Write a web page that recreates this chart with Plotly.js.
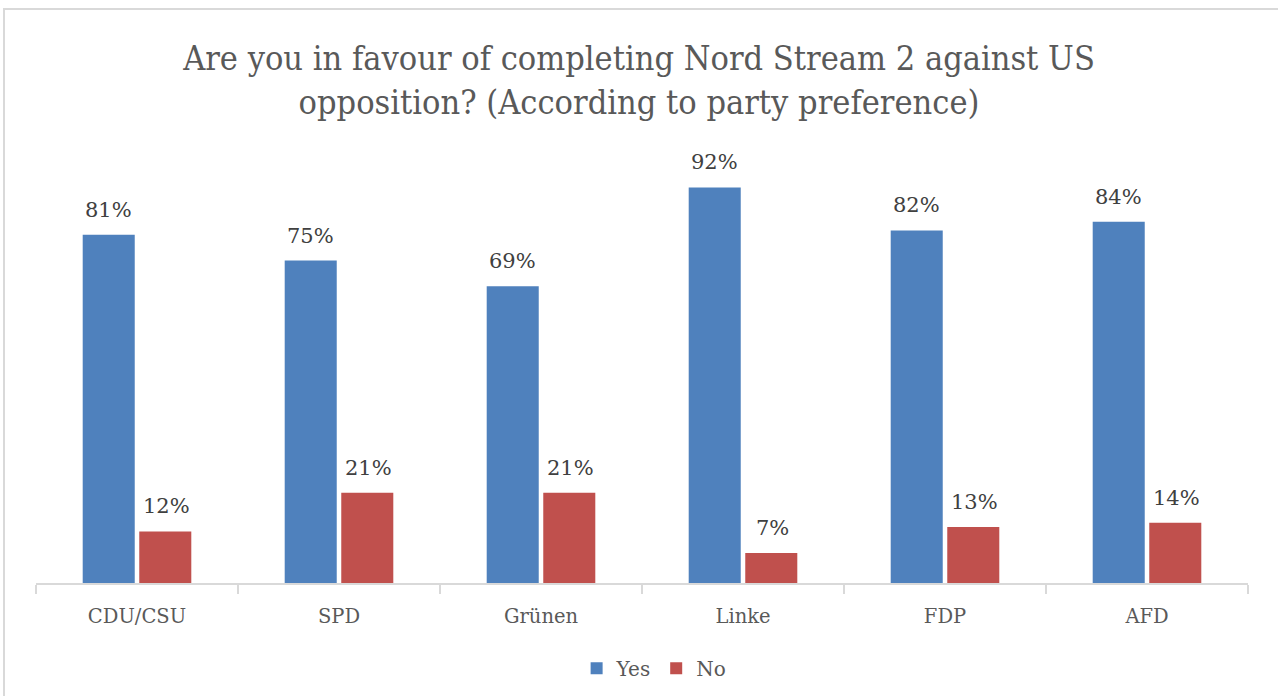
<!DOCTYPE html>
<html>
<head>
<meta charset="utf-8">
<script src="https://cdn.plot.ly/plotly-3.0.1.min.js"></script>
<style>
html,body{margin:0;padding:0;background:#fff;overflow:hidden;}
#frame{position:absolute;left:3px;top:8px;width:1400px;height:800px;border:2px solid #d9d9d9;box-sizing:border-box;}
#chart{position:absolute;left:0;top:0;width:1278px;height:696px;}
</style>
</head>
<body>
<div id="frame"></div>
<div id="chart"></div>
<script>
const categories = ["CDU/CSU", "SPD", "Grünen", "Linke", "FDP", "AFD"];
const yesValues = [81, 75, 69, 92, 82, 84];
const noValues = [12, 21, 21, 7, 13, 14];
const seriesNames = ["Yes", "No"];
const titleText = "Are you in favour of completing Nord Stream 2 against US<br>opposition? (According to party preference)";

const serif = "DejaVu Serif, Liberation Serif, serif";
const textColor = "#595959";
const labelColor = "#404040";

const traces = [
  {type: "bar", name: seriesNames[0], x: categories, y: yesValues,
   marker: {color: "#4F81BD"}, hoverinfo: "skip"},
  {type: "bar", name: seriesNames[1], x: categories, y: noValues,
   marker: {color: "#C0504D"}, hoverinfo: "skip"}
];

const annotations = [];
categories.forEach((c, i) => {
  annotations.push({x: c, y: yesValues[i], xref: "x", yref: "y", text: yesValues[i] + "%",
    showarrow: false, xanchor: "center", yanchor: "bottom", xshift: -29, yshift: 11,
    font: {family: serif, size: 21, color: labelColor}});
  annotations.push({x: c, y: noValues[i], xref: "x", yref: "y", text: noValues[i] + "%",
    showarrow: false, xanchor: "center", yanchor: "bottom", xshift: 29, yshift: 11,
    font: {family: serif, size: 21, color: labelColor}});
});

const layout = {
  width: 1278, height: 696,
  paper_bgcolor: "rgba(0,0,0,0)", plot_bgcolor: "rgba(0,0,0,0)",
  margin: {l: 36, r: 30, t: 153, b: 113},
  title: {text: titleText, x: 0.5, xanchor: "center", y: 0.9, yanchor: "top",
          font: {family: "DejaVu Serif Condensed, " + serif, size: 34, color: textColor}},
  barmode: "group", bargap: 0.44, bargroupgap: 0.08,
  xaxis: {type: "category", showline: true, linecolor: "#d9d9d9", linewidth: 1.5,
          ticks: "outside", tickson: "boundaries", ticklen: 9, tickcolor: "#d9d9d9", tickwidth: 1.5,
          ticklabelstandoff: 15, automargin: false,
          tickfont: {family: serif, size: 19.5, color: textColor}, showgrid: false, zeroline: false},
  yaxis: {range: [0, 100], visible: false, showgrid: false, zeroline: false, automargin: false},
  annotations: annotations,
  showlegend: true,
  legend: {orientation: "h", x: 0.51, xanchor: "center", yref: "container", y: 0.04, yanchor: "middle",
           font: {family: serif, size: 20, color: textColor}, itemwidth: 30}
};

Plotly.newPlot("chart", traces, layout, {displayModeBar: false, staticPlot: true});
</script>
</body>
</html>
